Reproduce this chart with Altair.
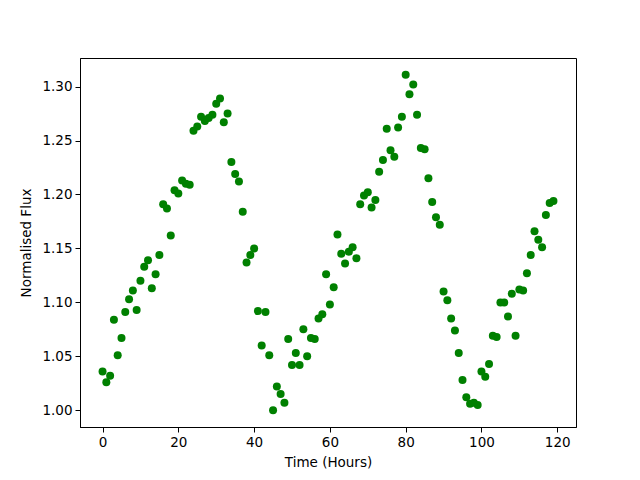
import altair as alt
import pandas as pd

hours = list(range(120))
flux = [
    1.036, 1.026, 1.032, 1.084, 1.051, 1.067, 1.091, 1.103, 1.111, 1.093,
    1.120, 1.133, 1.139, 1.113, 1.126, 1.144, 1.191, 1.187, 1.162, 1.204,
    1.201, 1.213, 1.210, 1.209, 1.259, 1.263, 1.272, 1.268, 1.271, 1.274,
    1.284, 1.289, 1.267, 1.275, 1.230, 1.219, 1.212, 1.184, 1.137, 1.144,
    1.150, 1.092, 1.060, 1.091, 1.051, 1.000, 1.022, 1.015, 1.007, 1.066,
    1.042, 1.053, 1.042, 1.075, 1.050, 1.067, 1.066, 1.085, 1.089, 1.126,
    1.098, 1.114, 1.163, 1.145, 1.136, 1.147, 1.151, 1.141, 1.191, 1.199,
    1.202, 1.188, 1.195, 1.221, 1.232, 1.261, 1.241, 1.235, 1.262, 1.272,
    1.311, 1.293, 1.302, 1.274, 1.243, 1.242, 1.215, 1.193, 1.179, 1.172,
    1.110, 1.102, 1.085, 1.074, 1.053, 1.028, 1.012, 1.006, 1.007, 1.005,
    1.036, 1.031, 1.043, 1.069, 1.068, 1.100, 1.100, 1.087, 1.108, 1.069,
    1.112, 1.111, 1.127, 1.144, 1.166, 1.158, 1.151, 1.181, 1.192, 1.194,
]
x_ticks = [0, 20, 40, 60, 80, 100, 120]
y_ticks = [1.00, 1.05, 1.10, 1.15, 1.20, 1.25, 1.30]

df = pd.DataFrame({"hour": hours, "flux": flux})

chart = alt.Chart(df).mark_circle(color="#008000", opacity=1, size=64).encode(
    x=alt.X("hour:Q", title="Time (Hours)",
            scale=alt.Scale(domain=[-5.95, 124.95], nice=False, zero=False),
            axis=alt.Axis(values=x_ticks, format="d", titlePadding=7)),
    y=alt.Y("flux:Q", title="Normalised Flux",
            scale=alt.Scale(domain=[0.9845, 1.3265], nice=False, zero=False),
            axis=alt.Axis(values=y_ticks, format=".2f", titlePadding=8)),
).properties(
    width=496, height=369,
    autosize=alt.AutoSizeParams(type="none"),
    padding={"left": 72, "top": 50, "right": 56, "bottom": 45},
).configure_view(
    stroke="black", strokeWidth=1
).configure_axis(
    grid=False,
    domainColor="black", domainWidth=1,
    tickColor="black", tickSize=5, tickWidth=1,
    labelColor="black", labelFont="DejaVu Sans", labelFontSize=13.5,
    labelPadding=3,
    titleColor="black", titleFont="DejaVu Sans", titleFontSize=13.5,
    titleFontWeight="normal",
)

chart.save("out.html", embed_options={"renderer": "svg", "actions": False})
